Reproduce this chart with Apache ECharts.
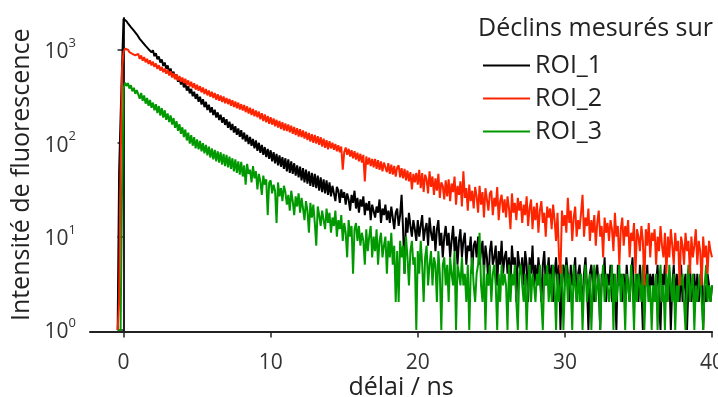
<!DOCTYPE html>
<html><head><meta charset="utf-8">
<script src="https://cdn.jsdelivr.net/npm/echarts@6/dist/echarts.min.js"></script>
<style>html,body{margin:0;padding:0;background:#fff}#c{width:718px;height:397px}</style>
</head><body><div id="c"></div>
<script>
const seriesNames = ['ROI_1', 'ROI_2', 'ROI_3'];
const legendTitle = 'Déclins mesurés sur';
const xName = 'délai / ns';
const yName = 'Intensité de fluorescence';
const xTicks = [0, 10, 20, 30, 40];
const yTicks = [1, 10, 100, 1000];
// sampling grid of the decays (ns)
const T_START = -0.4, T_STEP = 0.1;

// ROI_1 (black) counts, one row per ns
const roi1 = [
1, 50, 190, 680,
2150, 2090, 2020, 1920, 1850, 1750, 1700, 1605, 1560, 1465,
1465, 1310, 1350, 1200, 1245, 1100, 1150, 1015, 1065, 940,
990, 855, 918, 790, 850, 730, 790, 672, 730, 625,
680, 572, 630, 528, 584, 490, 545, 455, 505, 425,
472, 396, 440, 366, 408, 342, 382, 318, 356, 298,
336, 278, 315, 260, 296, 243, 277, 227, 258, 213,
243, 200, 228, 188, 214, 177, 202, 166, 190, 157,
181, 146, 170, 138, 161, 130, 152, 123, 144, 117,
138, 110, 130, 104, 123, 98, 117, 94, 111, 88,
107, 83, 101, 79, 96, 75, 91, 71, 87, 68,
84, 64, 80, 61, 77, 58, 74, 56, 71, 53,
69, 50, 67, 48, 64, 47, 61, 45, 58, 43,
56, 40, 54, 38, 52, 37, 50, 35, 48, 34,
47, 33, 45, 31, 43, 30, 41, 29, 40, 28,
38, 27, 35, 29, 24, 34, 31, 23, 32, 26,
30, 22, 29, 25, 19, 28, 23, 31, 20, 26,
18, 25, 21, 27, 17, 23, 19, 24, 15, 22,
23, 16, 21, 18, 25, 14, 20, 17, 22, 15,
19, 14, 21, 16, 12, 18, 20, 13, 17, 28,
12, 4, 16, 11, 18, 13, 10, 15, 12, 9,
15, 10, 13, 17, 9, 12, 14, 8, 16, 11,
9, 13, 7, 12, 15, 8, 11, 6, 10, 13,
8, 11, 6, 9, 13, 7, 10, 5, 9, 12,
6, 9, 11, 5, 8, 7, 10, 4, 8, 9,
6, 10, 5, 7, 9, 4, 8, 6, 3, 7,
9, 5, 6, 8, 3, 7, 5, 9, 4, 6,
7, 4, 6, 3, 8, 5, 6, 2, 7, 5,
4, 6, 3, 7, 5, 2, 6, 4, 8, 3,
5, 3, 6, 4, 2, 5, 7, 3, 4, 6,
3, 5, 2, 4, 6, 3, 5, 1, 4, 5,
3, 6, 4, 2, 5, 3, 4, 6, 2, 4,
5, 3, 2, 4, 6, 3, 1, 4, 5, 3,
2, 4, 5, 3, 1, 4, 3, 6, 2, 4,
3, 5, 2, 4, 3, 1, 5, 3, 4, 2,
4, 2, 5, 3, 2, 4, 6, 2, 3, 4,
2, 5, 3, 1, 4, 3, 5, 2, 4, 3,
4, 2, 3, 5, 2, 1, 4, 3, 5, 2,
3, 4, 1, 3, 5, 2, 4, 3, 2, 5,
2, 3, 4, 1, 3, 5, 2, 3, 4, 2,
4, 2, 3, 5, 1, 3, 2, 4, 3, 2,
3
];

// ROI_2 (red) counts
const roi2 = [
1, 2, 57, 650,
950, 1025, 985, 1000, 945, 970, 905, 935, 870, 900,
905, 800, 870, 765, 835, 735, 800, 705, 770, 680,
745, 655, 715, 625, 685, 600, 655, 575, 630, 555,
610, 530, 590, 505, 565, 485, 545, 470, 525, 455,
505, 440, 490, 420, 470, 405, 455, 390, 438, 375,
422, 365, 408, 350, 394, 337, 380, 325, 366, 314,
355, 305, 345, 292, 335, 284, 325, 276, 316, 268,
305, 262, 298, 252, 288, 244, 280, 236, 272, 229,
262, 224, 256, 215, 248, 208, 240, 200, 232, 194,
224, 190, 218, 180, 210, 173, 203, 167, 196, 161,
190, 158, 184, 152, 178, 147, 173, 142, 168, 137,
163, 135, 159, 131, 154, 126, 149, 122, 145, 118,
141, 116, 137, 112, 133, 108, 129, 104, 125, 101,
123, 99, 119, 96, 116, 92, 112, 89, 108, 86,
105, 88, 101, 85, 98, 82, 95, 80, 92, 52,
80, 90, 75, 87, 72, 84, 69, 82, 67, 79,
64, 77, 62, 75, 39, 72, 59, 70, 57, 68,
55, 68, 53, 66, 52, 64, 50, 62, 60, 49,
61, 47, 59, 46, 57, 44, 55, 58, 43, 54,
42, 53, 40, 51, 39, 49, 32, 47, 38, 48,
36, 52, 33, 48, 30, 46, 41, 29, 50, 34,
44, 28, 42, 31, 47, 26, 38, 35, 25, 40,
27, 41, 24, 37, 30, 44, 22, 35, 28, 39,
21, 50, 26, 33, 19, 36, 24, 31, 20, 34,
27, 18, 35, 22, 30, 16, 33, 25, 19, 29,
31, 17, 26, 21, 34, 15, 24, 28, 18, 25,
16, 27, 20, 12, 29, 18, 23, 15, 26, 19,
24, 14, 22, 17, 27, 13, 20, 25, 12, 21,
15, 23, 11, 19, 24, 14, 18, 10, 21, 16,
20, 12, 22, 15, 9, 18, 6, 4, 19, 13,
17, 11, 26, 14, 19, 9, 16, 21, 10, 15,
12, 18, 28, 10, 16, 13, 20, 9, 15, 11,
17, 8, 14, 19, 10, 13, 6, 16, 11, 14,
9, 15, 12, 7, 18, 10, 13, 5, 12, 16,
8, 13, 10, 15, 6, 11, 9, 14, 4, 12,
10, 7, 13, 9, 3, 12, 8, 14, 6, 11,
9, 12, 5, 10, 7, 13, 8, 6, 11, 4,
10, 6, 12, 8, 5, 11, 7, 9, 3, 10,
8, 5, 11, 7, 9, 4, 10, 6, 8, 12,
5, 9, 7, 3, 10, 6, 8, 4, 9, 7,
6
];

// ROI_3 (green) counts
const roi3 = [
1, 1, 1, 35,
380, 445, 410, 440, 385, 418, 360, 392, 338, 370,
360, 300, 345, 285, 325, 265, 305, 252, 290, 240,
272, 225, 262, 210, 250, 198, 238, 188, 225, 178,
208, 168, 198, 158, 186, 146, 172, 136, 160, 126,
148, 116, 140, 107, 130, 99, 122, 94, 116, 88,
110, 86, 106, 82, 100, 78, 96, 74, 92, 70,
88, 67, 85, 64, 82, 62, 80, 59, 77, 57,
75, 55, 72, 53, 69, 50, 67, 48, 64, 46,
63, 44, 58, 36, 60, 47, 52, 38, 57, 42,
50, 32, 47, 39, 28, 45, 36, 41, 17, 38,
40, 29, 36, 31, 14, 38, 27, 33, 24, 35,
30, 22, 28, 19, 31, 24, 17, 27, 21, 29,
18, 26, 20, 15, 24, 19, 11, 23, 16, 22,
14, 8, 21, 17, 13, 19, 15, 12, 20, 14,
18, 11, 16, 13, 19, 10, 15, 12, 17, 9,
14, 11, 6, 15, 10, 13, 4, 12, 14, 9,
13, 8, 11, 9, 5, 12, 7, 10, 13, 6,
10, 7, 12, 5, 9, 11, 6, 8, 10, 4,
9, 6, 11, 5, 8, 2, 7, 2, 9, 6,
8, 4, 10, 6, 3, 7, 9, 5, 6, 1,
7, 4, 9, 5, 2, 6, 8, 3, 5, 7,
3, 6, 5, 2, 7, 4, 1, 5, 6, 3,
5, 2, 6, 4, 3, 7, 1, 5, 4, 3,
6, 3, 4, 2, 5, 1, 4, 6, 3, 2,
4, 5, 11, 3, 2, 5, 1, 4, 3, 5,
2, 4, 5, 3, 1, 4, 2, 5, 3, 4,
3, 1, 5, 2, 4, 3, 5, 2, 1, 4,
5, 3, 2, 4, 1, 3, 5, 2, 4, 3,
2, 4, 3, 5, 2, 1, 4, 3, 5, 2,
4, 2, 5, 3, 1, 4, 2, 3, 5, 1,
3, 5, 2, 4, 3, 1, 5, 3, 2, 4,
2, 4, 1, 3, 5, 2, 3, 4, 1, 3,
5, 2, 3, 4, 1, 3, 5, 2, 4, 3,
2, 3, 5, 1, 4, 2, 3, 5, 2, 4,
3, 1, 4, 3, 2, 5, 3, 1, 4, 2,
4, 3, 2, 5, 1, 3, 4, 2, 3, 1,
3, 2, 4, 1, 3, 5, 2, 3, 1, 4,
2, 5, 3, 2, 4, 1, 3, 2, 4, 3,
4, 2, 1, 3, 5, 2, 3, 4, 1, 3,
2, 3, 4, 2, 1, 3, 5, 2, 3, 2,
3
];

const FONT = '"Open Sans", "Noto Sans", sans-serif';
const TEXT = '#222';
const colors = { ROI_1: '#000000', ROI_2: '#ff2400', ROI_3: '#009a00' };
const toPairs = arr => arr.map((v, i) => [Math.round((T_START + i * T_STEP) * 10) / 10, v]);
const dataByName = { ROI_1: roi1, ROI_2: roi2, ROI_3: roi3 };
const zByName = { ROI_1: 2, ROI_2: 4, ROI_3: 3 };

const chart = echarts.init(document.getElementById('c'), null, { renderer: 'canvas' });
chart.setOption({
  animation: false,
  backgroundColor: '#ffffff',
  title: {
    text: legendTitle, left: 478, top: 16, padding: 0,
    textStyle: { fontFamily: FONT, fontSize: 25, fontWeight: 'normal', color: TEXT }
  },
  legend: {
    data: seriesNames.map(n => ({ name: n, icon: 'rect' })),
    orient: 'vertical', left: 483, top: 53, padding: 0,
    itemWidth: 47, itemHeight: 2, itemGap: 8,
    textStyle: { fontFamily: FONT, fontSize: 25, color: TEXT, lineHeight: 25 }
  },
  grid: { left: 90, right: 6, top: 18, bottom: 65.5, outerBoundsMode: 'none', containLabel: false },
  xAxis: {
    type: 'value', min: -2.28, max: 40,
    name: xName, nameLocation: 'middle', nameGap: 44, nameMoveOverlap: false,
    nameTextStyle: { fontFamily: FONT, fontSize: 25, color: TEXT, lineHeight: 25 },
    axisLine: { lineStyle: { color: '#222', width: 2 } },
    axisTick: { customValues: xTicks, length: 6, lineStyle: { color: '#222', width: 1.5 } },
    axisLabel: { customValues: xTicks, margin: 21, fontFamily: FONT, fontSize: 21, color: '#333' },
    splitLine: { show: false }
  },
  yAxis: {
    type: 'log', logBase: 10, min: 0.964, max: 2190,
    name: yName, nameLocation: 'middle', nameGap: 56, nameMoveOverlap: false,
    nameTextStyle: { fontFamily: FONT, fontSize: 25, color: TEXT },
    axisLine: { lineStyle: { color: '#222', width: 2 } },
    axisTick: { customValues: yTicks, length: 6, lineStyle: { color: '#222', width: 1.5 } },
    axisLabel: {
      customValues: yTicks, margin: 14,
      formatter: v => '{b|10}{s|' + Math.round(Math.log10(v)) + '}',
      rich: {
        b: { fontFamily: FONT, fontSize: 21, color: '#333', lineHeight: 26, verticalAlign: 'bottom' },
        s: { fontFamily: FONT, fontSize: 13, color: '#333', lineHeight: 14, verticalAlign: 'top' }
      }
    },
    splitLine: { show: false }
  },
  series: seriesNames.map(name => ({
    name, type: 'line', data: toPairs(dataByName[name]),
    symbol: 'none', showSymbol: false, sampling: null, silent: true,
    z: zByName[name],
    color: colors[name],
    lineStyle: { color: colors[name], width: 2 }
  }))
});
</script>
</body></html>
